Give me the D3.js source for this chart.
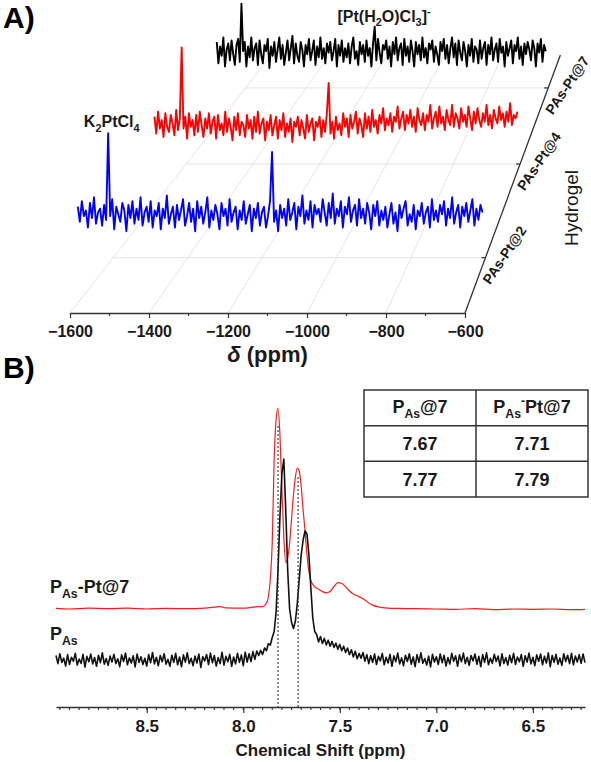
<!DOCTYPE html>
<html>
<head>
<meta charset="utf-8">
<script src="https://cdn.jsdelivr.net/npm/d3@7"></script>
<style>
  body { margin: 0; background: #fff; }
  svg { display: block; font-family: "Liberation Sans", Arial, sans-serif; }
</style>
</head>
<body>
<svg width="591" height="762"></svg>
<script>
// ---------- panel A : 195Pt spectra, stacked in depth ----------
var samples = ["PAs-Pt@2", "PAs-Pt@4", "PAs-Pt@7"];
var sampleColors = ["#0000ff", "#ff0000", "#000000"];
var shiftStartA = -1695, shiftEndA = -608;
var xTicksA = [-1600, -1400, -1200, -1000, -800, -600];
var xMinorA = [-1500, -1300, -1100, -900, -700];

var specPt2 = [27,19,30,22,25,16,29,21,32,18, 24,26,17,28,20,66,22,31,15,27,
  23,19,29,25,14,28,21,30,18,26, 20,32,17,24,27,19,30,16,25,22,
  29,15,26,21,33,18,23,27,16,28, 20,25,31,17,22,29,19,26,14,30,
  21,27,18,24,32,16,25,20,28,23, 15,29,22,26,17,31,19,24,27,15,
  25,20,30,18,23,28,14,26,21,29, 17,24,27,16,22,30,56,19,25,14,
  28,21,26,17,31,20,24,29,15,27, 22,33,18,25,20,30,16,28,23,26,
  19,31,24,17,29,21,34,18,26,22, 30,16,27,23,32,19,25,28,17,31,
  21,26,18,29,24,15,28,22,30,17, 25,20,27,16,23,29,18,24,14,28,
  21,26,30,17,23,19,28,15,25,22, 29,18,24,27,16,31,20,25,19,28,
  23,30,17,26,21,32,18,24,28,16, 27,22,29,19,25,31,17,26,20,28, 24];
var specPt4 = [28,18,31,21,26,16,30,22,19,29, 24,17,32,20,27,69,21,28,15,30,
  22,26,17,29,19,31,23,16,27,21, 30,18,25,28,15,29,20,24,17,31,
  19,27,22,14,28,20,30,17,25,23, 16,29,21,26,15,28,19,31,18,24,
  27,14,25,20,29,17,23,28,15,26, 20,30,16,24,19,27,13,25,22,28,
  17,26,21,15,29,19,24,27,14,25, 22,28,16,26,19,30,48,18,25,15,
  28,20,24,17,30,22,27,16,29,21, 25,31,18,27,23,16,30,21,28,19,
  32,22,26,18,29,24,33,20,27,23, 30,19,28,25,34,21,27,31,20,29,
  24,32,22,28,19,33,26,23,30,20, 29,25,35,21,27,31,22,34,24,28,
  20,32,26,23,35,22,30,27,21,33, 25,29,22,34,27,20,31,24,33,26,
  22,30,25,35,23,29,21,32,27,24, 34,26,30,22,31,25,36,23,29,27, 31];
var specPt7 = [30,16,27,21,33,14,25,29,18,31, 22,15,28,32,17,55,24,30,14,27,
  20,33,18,26,29,15,31,22,16,28, 24,32,13,27,21,30,17,25,33,19,
  28,15,23,31,18,26,34,16,29,21, 17,30,25,14,28,22,32,18,24,31,
  15,27,20,33,19,26,16,29,23,30, 18,24,32,14,28,21,31,17,26,20,
  29,16,27,33,19,24,15,30,22,28, 17,31,21,26,14,29,40,18,32,23,
  16,28,25,31,19,27,14,30,22,33, 18,26,29,15,32,21,27,17,31,24,
  14,30,22,28,18,33,20,26,16,29, 25,31,17,27,22,15,30,24,32,19,
  28,16,26,33,20,29,15,31,23,18, 30,24,14,28,21,32,17,27,25,16,
  31,19,26,30,15,28,22,33,18,25, 29,17,32,23,27,14,30,21,26,31,
  16,28,24,33,19,27,15,29,22,30, 25,18,31,26,14,29,23,32,17,28, 24];
var spectraA = [specPt2, specPt4, specPt7];

var peakShifts = [-1612, -1172];
var peakSample = ["PAs-Pt@2", "PAs-Pt@7"];
var peakHeight = [66, 40];

// ---------- panel B : 1H spectra ----------
var shiftStartB = 8.97, shiftEndB = 6.23;
var xTicksB = [8.5, 8.0, 7.5, 7.0, 6.5];
var specPAs = [1.5,-1.2,2.1,-0.8,0.6,-2.0,1.8,-1.5,0.9,-0.4,
  2.2,-1.7,0.3,-1.1,1.9,-2.4,1.2,-0.6,2.0,-1.3,
  0.8,-2.1,1.6,-0.9,2.4,-1.4,0.5,-1.8,1.3,-0.7,
  1.9,-1.2,0.4,-2.2,1.7,-0.5,2.3,-1.6,0.7,-1.0,
  1.4,-2.3,2.0,-0.8,1.1,-1.5,0.6,-2.0,1.8,-0.9,
  2.5,-1.3,0.9,-1.9,1.5,-0.6,2.1,-1.4,0.2,-2.1,
  1.6,-0.8,2.2,-1.6,1.0,-2.2,1.7,-0.7,2.4,-1.2,
  0.6,-1.9,1.3,-1.0,2.0,-2.5,1.1,-0.3,1.8,-1.5,
  2.3,-0.9,1.5,-2.0,0.8,-1.2,2.6,-1.7,1.2,-0.6,
  1.9,-2.1,1.0,-1.3,2.2,-0.8,1.7,-1.9,2.6,-0.7,
  2.1,-0.5,2.8,0.2,3.0,
  1.5,3.2,1.8,4.0,3.1,5.4,5.0,7.5,9.5,16,
  30,48,62,67,50,30,17,12.5,10.5,13,
  19,27,35,40,43,42,35,24,14,9.5,
  8.5,6.0,7.8,5.5,7.2,5.0,6.6,4.6,6.2,4.2,
  5.6,3.6,5.2,3.1,4.6,2.5,4.0,1.8,3.4,1.0,
  2.9,0.4,2.2,
  0.6,2.5,-0.4,1.8,-1.2,1.5,-0.8,2.0,-1.5,1.2,
  -0.3,2.2,-1.6,0.9,-1.0,1.9,-2.1,1.4,-0.6,2.3,
  -1.3,0.7,-1.9,1.6,-0.5,2.1,-1.4,1.0,-2.2,1.8,
  -0.8,2.4,-1.1,0.5,-1.7,1.3,-2.3,1.9,-0.7,1.1,
  -1.5,2.0,-0.9,1.6,-2.0,0.8,-1.3,2.2,-0.4,1.4,
  -2.1,1.7,-0.6,2.3,-1.2,0.9,-1.8,1.5,-0.3,2.0,
  -1.4,1.2,-2.2,1.8,-0.8,2.4,-1.6,0.6,-1.1,1.9,
  -0.5,1.3,-2.0,2.1,-1.2,0.8,-1.7,1.6,-0.9,2.2,
  -1.5,1.0,-0.6,1.8,-2.1,1.4,-0.7,2.3,-1.3,0.9,
  -1.9,1.7,-0.4,2.0,-1.6,1.2,-1.0,2.4,-2.2,1.5,
  -0.8,1.9,-1.4,0.7,-1.8,2.1,-0.5,1.6,-1.2,2.2,
  -1.6,1.3,-0.7,1.8,-1.1,2.0,-0.9];
var ptShift = [8.97,8.9,8.8,8.7,8.6,8.5,8.4,8.3,8.2,8.15,8.12,8.09,8.0,7.95,7.92,7.9,7.89,7.88,7.87,7.86,
  7.85,7.84,7.83,7.82,7.81,7.8,7.79,7.78,7.77,7.76,7.75,7.74,7.73,7.72,7.71,7.7,7.69,7.68,7.67,7.66,
  7.65,7.64,7.63,7.61,7.59,7.57,7.55,7.53,7.51,7.49,7.47,7.45,7.43,7.41,7.39,7.37,7.35,7.33,7.3,7.25,
  7.2,7.1,7.0,6.9,6.8,6.7,6.6,6.5,6.4,6.3,6.23];
var ptInt = [0.2,0,0.3,0.1,0.3,0,0.2,0.1,0.3,0.6,0.8,0.4,0.3,0.6,0.8,0.8,1.2,2.0,4.0,10,
  22,50,63,67,58,40,24,15.5,17,22,30,38,44,47,46,41,33,26,18,12.5,
  9.5,8.2,7.4,6.6,5.8,5.4,5.8,7.5,8.8,8.6,7.4,6.0,5.0,4.4,3.8,3.0,2.0,1.3,0.7,0.3,
  0.2,0.1,0,-0.1,0.1,-0.2,0,-0.1,0,-0.2,-0.1];
var dashShift = [7.82, 7.716];
var dashTop = [61, 44];
var tableHead = [["P", "As", "", "@7"], ["P", "As", "-", "Pt@7"]];
var tableRows = [["7.67", "7.71"], ["7.77", "7.79"]];

var svg = d3.select("svg");
var ink = "#1a1a1a";

function richText(g, parts, size, x, y, anchor, weight) {
  var t = g.append("text").attr("x", x).attr("y", y)
    .attr("text-anchor", anchor || "start")
    .attr("font-size", size).attr("font-weight", weight || "bold").attr("fill", ink);
  var shift = 0;
  parts.forEach(function(p) {
    if (p.t === "") return;
    var target = p.s === "sub" ? size * 0.3 : (p.s === "sup" ? -size * 0.42 : 0);
    t.append("tspan").attr("dy", target - shift)
      .attr("font-size", p.s ? size * 0.68 : size).text(p.t);
    shift = target;
  });
  return t;
}

// ---------- draw panel A ----------
var vp = [821, -650];
var depthK = 0.122;
var floorY = 313;
var xFront = d3.scaleLinear().domain([-1600, -600]).range([70, 465]);
var zA = d3.scaleLinear().domain([0, 100]).range([0, 200]);
var depth = d3.scalePoint().domain(samples).range([0, 3]).padding(0.5);

function project(ppm, d, inten) {
  var x0 = xFront(ppm), y0 = floorY - zA(inten);
  var r = 1 / (1 + depthK * d);
  return [vp[0] + (x0 - vp[0]) * r, vp[1] + (y0 - vp[1]) * r];
}

var gA = svg.append("g");
var grid = gA.append("g").attr("stroke", "#dedede").attr("stroke-width", 0.8);
xTicksA.slice(0, -1).forEach(function(v) {
  var a = project(v, 0, 0), b = project(v, 3, 0);
  grid.append("line").attr("x1", a[0]).attr("y1", a[1]).attr("x2", b[0]).attr("y2", b[1]);
});
samples.forEach(function(s) {
  var a = project(-1600, depth(s), 0), b = project(-600, depth(s), 0);
  grid.append("line").attr("x1", a[0]).attr("y1", a[1]).attr("x2", b[0]).attr("y2", b[1]);
});

// traces back to front
var lineA = d3.line().x(function(p) { return p[0]; }).y(function(p) { return p[1]; });
[2, 1, 0].forEach(function(k) {
  var data = spectraA[k];
  var idx = d3.scaleLinear().domain([0, data.length - 1]).range([shiftStartA, shiftEndA]);
  var pts = data.map(function(v, i) { return project(idx(i), depth(samples[k]), v); });
  gA.append("path").attr("d", lineA(pts)).attr("fill", "none")
    .attr("stroke", sampleColors[k]).attr("stroke-width", 1.9).attr("stroke-linejoin", "round");
});

// front axis
var axA = gA.append("g").attr("transform", "translate(0," + floorY + ")")
  .call(d3.axisBottom(xFront).tickValues(xTicksA).tickFormat(d3.format("d"))
    .tickSize(5).tickPadding(8).tickSizeOuter(0));
axA.select(".domain").attr("stroke", "#333").attr("stroke-width", 1.3);
axA.selectAll(".tick line").attr("stroke", "#333").attr("stroke-width", 1.2);
axA.selectAll(".tick text").attr("font-size", 16).attr("font-weight", "bold")
  .attr("fill", ink).attr("font-family", "Liberation Sans, Arial, sans-serif");
xMinorA.forEach(function(v) {
  axA.append("line").attr("x1", xFront(v)).attr("x2", xFront(v)).attr("y1", 0).attr("y2", 3)
    .attr("stroke", "#333").attr("stroke-width", 1.2);
});
var axTitle = gA.append("text").attr("x", xFront(-1100)).attr("y", 362).attr("text-anchor", "middle")
  .attr("font-size", 22).attr("font-weight", "bold").attr("fill", ink);
axTitle.append("tspan").attr("font-style", "italic").text("δ");
axTitle.append("tspan").text(" (ppm)");

// depth axis
var d0 = project(-600, 0, 0), d1 = project(-600, 3, 0);
gA.append("line").attr("x1", d0[0]).attr("y1", d0[1]).attr("x2", d1[0]).attr("y2", d1[1])
  .attr("stroke", "#333").attr("stroke-width", 1.3);
samples.forEach(function(s) {
  var p = project(-600, depth(s), 0);
  gA.append("line").attr("x1", p[0] - 4).attr("x2", p[0]).attr("y1", p[1]).attr("y2", p[1])
    .attr("stroke", "#333").attr("stroke-width", 1.2);
  gA.append("text").attr("transform", "translate(" + (p[0] + 20) + "," + (p[1] - 2) + ") rotate(-56)")
    .attr("text-anchor", "middle").attr("dominant-baseline", "middle")
    .attr("font-size", 14).attr("font-weight", "bold").attr("fill", ink).text(s);
});
gA.append("text").attr("transform", "translate(578,208) rotate(-90)").attr("text-anchor", "middle")
  .attr("font-size", 19).attr("fill", ink).text("Hydrogel");

// peak labels
var kPos = project(peakShifts[0], depth(peakSample[0]), peakHeight[0]);
richText(gA, [{t: "K"}, {t: "2", s: "sub"}, {t: "PtCl"}, {t: "4", s: "sub"}], 16, kPos[0] + 3, kPos[1] - 6, "middle");
var wPos = project(peakShifts[1], depth(peakSample[1]), peakHeight[1]);
richText(gA, [{t: "[Pt(H"}, {t: "2", s: "sub"}, {t: "O)Cl"}, {t: "3", s: "sub"}, {t: "]"}, {t: "-", s: "sup"}],
  16, wPos[0] + 9, wPos[1] - 5, "middle");

svg.append("text").attr("x", 3).attr("y", 28).attr("font-size", 30).attr("font-weight", "bold")
  .attr("fill", "#000").text("A)");
svg.append("text").attr("x", 3).attr("y", 378).attr("font-size", 30).attr("font-weight", "bold")
  .attr("fill", "#000").text("B)");

// ---------- draw panel B ----------
var xB = d3.scaleLinear().domain([shiftStartB, shiftEndB]).range([56, 585]);
var yB = d3.scaleLinear().domain([0, 100]).range([0, 300]);
var axisY = 707, redBase = 609, blackBase = 660;
var gB = svg.append("g");

var redLine = d3.line().curve(d3.curveMonotoneX)
  .x(function(d) { return xB(d[0]); }).y(function(d) { return redBase - yB(d[1]); });
gB.append("path").attr("d", redLine(d3.zip(ptShift, ptInt))).attr("fill", "none")
  .attr("stroke", "#ff1a1a").attr("stroke-width", 1.2);

var idxB = d3.scaleLinear().domain([0, specPAs.length - 1]).range([shiftStartB, shiftEndB]);
var blackLine = d3.line()
  .x(function(d, i) { return xB(idxB(i)); }).y(function(d) { return blackBase - yB(d); });
gB.append("path").attr("d", blackLine(specPAs)).attr("fill", "none")
  .attr("stroke", "#111").attr("stroke-width", 1.6).attr("stroke-linejoin", "round");

dashShift.forEach(function(s, i) {
  gB.append("line").attr("x1", xB(s)).attr("x2", xB(s))
    .attr("y1", redBase - yB(dashTop[i])).attr("y2", axisY)
    .attr("stroke", "#333").attr("stroke-width", 1.1).attr("stroke-dasharray", "2,2");
});

var axB = gB.append("g").attr("transform", "translate(0," + axisY + ")")
  .call(d3.axisBottom(xB).tickValues(xTicksB).tickFormat(d3.format(".1f"))
    .tickSize(6).tickPadding(7).tickSizeOuter(0));
axB.select(".domain").attr("stroke", "#333").attr("stroke-width", 1.3);
axB.selectAll(".tick line").attr("stroke", "#333").attr("stroke-width", 1.2);
axB.selectAll(".tick text").attr("font-size", 17).attr("font-weight", "bold")
  .attr("fill", ink).attr("font-family", "Liberation Sans, Arial, sans-serif");
d3.range(6.25, 8.96, 0.05).forEach(function(v) {
  axB.append("line").attr("x1", xB(v)).attr("x2", xB(v)).attr("y1", 0).attr("y2", 3)
    .attr("stroke", "#333").attr("stroke-width", 1.1);
});
gB.append("text").attr("x", (xB.range()[0] + xB.range()[1]) / 2).attr("y", 756)
  .attr("text-anchor", "middle").attr("font-size", 17).attr("font-weight", "bold")
  .attr("fill", ink).text("Chemical Shift (ppm)");

richText(gB, [{t: "P"}, {t: "As", s: "sub"}, {t: "-Pt@7"}], 18, 50, 593);
richText(gB, [{t: "P"}, {t: "As", s: "sub"}], 18, 50, 640);

// table
var colB = d3.scaleBand().domain([0, 1]).range([364, 588]);
var rowB = d3.scaleBand().domain([0, 1, 2]).range([390, 497]);
var tbl = gB.append("g");
tbl.append("rect").attr("x", 364).attr("y", 390).attr("width", 224).attr("height", 107)
  .attr("fill", "none").attr("stroke", "#333").attr("stroke-width", 1.5);
tbl.append("line").attr("x1", colB(1)).attr("x2", colB(1)).attr("y1", 390).attr("y2", 497)
  .attr("stroke", "#333").attr("stroke-width", 1.5);
[1, 2].forEach(function(r) {
  tbl.append("line").attr("x1", 364).attr("x2", 588).attr("y1", rowB(r)).attr("y2", rowB(r))
    .attr("stroke", "#333").attr("stroke-width", 1.5);
});
tableHead.forEach(function(h, c) {
  richText(tbl, [{t: h[0]}, {t: h[1], s: "sub"}, {t: h[2], s: "sup"}, {t: h[3]}], 18,
    colB(c) + colB.bandwidth() / 2, rowB(0) + rowB.bandwidth() / 2 + 5, "middle");
});
tableRows.forEach(function(row, r) {
  row.forEach(function(v, c) {
    tbl.append("text").attr("x", colB(c) + colB.bandwidth() / 2)
      .attr("y", rowB(r + 1) + rowB.bandwidth() / 2 + 6.5)
      .attr("text-anchor", "middle").attr("font-size", 18).attr("font-weight", "bold")
      .attr("fill", ink).text(v);
  });
});
</script>
</body>
</html>
